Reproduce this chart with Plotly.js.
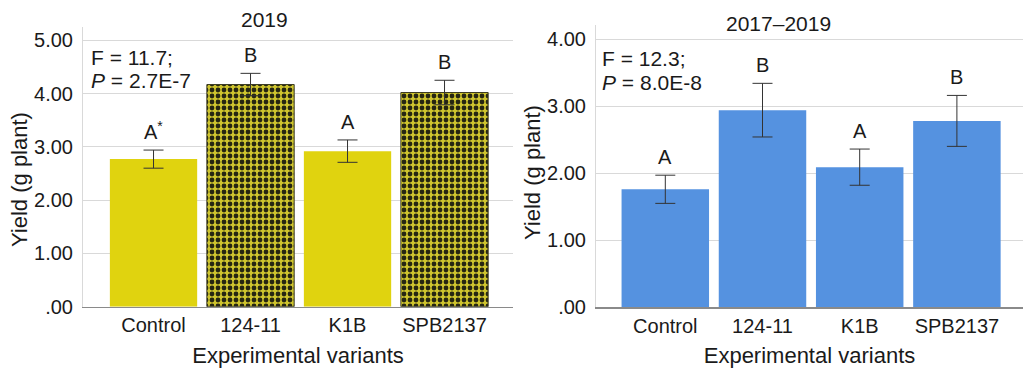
<!DOCTYPE html>
<html>
<head>
<meta charset="utf-8">
<script src="https://cdn.plot.ly/plotly-3.0.1.min.js"></script>
<style>html,body{margin:0;padding:0;background:#fff;}#chart{width:1023px;height:369px;}</style>
</head>
<body>
<div id="chart"></div>
<script>
// ---- data ----
const categories = ['Control', '124-11', 'K1B', 'SPB2137'];
const yield2019 = [2.77, 4.17, 2.92, 4.02];
const err2019 = [0.17, 0.21, 0.21, 0.23];
const letters2019 = ['A<sup>*</sup>', 'B', 'A', 'B'];
const yieldAll = [1.76, 2.94, 2.09, 2.78];
const errAll = [0.21, 0.40, 0.27, 0.38];
const lettersAll = ['A', 'B', 'A', 'B'];
const tickVals1 = [0, 1, 2, 3, 4, 5];
const tickText1 = ['.00', '1.00', '2.00', '3.00', '4.00', '5.00'];
const tickVals2 = [0, 1, 2, 3, 4];
const tickText2 = ['.00', '1.00', '2.00', '3.00', '4.00'];
const title1 = '2019';
const title2 = '2017–2019';
const stats1 = ['F = 11.7;', '<i>P</i> = 2.7E-7'];
const stats2 = ['F = 12.3;', '<i>P</i> = 8.0E-8'];
const xTitle = 'Experimental variants';
const yTitle = 'Yield (g plant)';

// ---- style ----
const FONT = 'Liberation Sans, Arial, Helvetica, sans-serif';
const TXT = '#1a1a1a';
const YELLOW = '#e0d30f';
const BLUE = '#5592e0';
const W = 1023, H = 369;
const px = x => x / W, py = y => 1 - y / H;

const errStyle = {type: 'data', visible: true, color: '#333333', thickness: 1, width: 10};

const trace1 = {
  type: 'bar', x: categories, y: yield2019, xaxis: 'x', yaxis: 'y', width: 0.9,
  error_y: Object.assign({array: err2019}, errStyle),
  marker: {
    color: YELLOW,
    line: {color: '#3a3a20', width: [0, 1, 0, 1]},
    pattern: {shape: ['', '.', '', '.'], fgcolor: '#262612', bgcolor: '#cfc52e', size: 6, solidity: 0.5, fillmode: 'replace'}
  },
  hoverinfo: 'skip', showlegend: false
};
const trace2 = {
  type: 'bar', x: categories, y: yieldAll, xaxis: 'x2', yaxis: 'y2', width: 0.9,
  error_y: Object.assign({array: errAll}, errStyle),
  marker: {color: BLUE, line: {width: 0}},
  hoverinfo: 'skip', showlegend: false
};

const annotations = [];
function letters(arr, vals, errs, xr, yr) {
  arr.forEach((t, i) => annotations.push({
    text: t, x: categories[i], y: vals[i] + errs[i], xref: xr, yref: yr,
    yanchor: 'bottom', yshift: 5, showarrow: false, font: {family: FONT, size: 20, color: TXT}
  }));
}
letters(letters2019, yield2019, err2019, 'x', 'y');
letters(lettersAll, yieldAll, errAll, 'x2', 'y2');
function txt(text, x, y, xanchor, size, angle) {
  annotations.push({text, x: px(x), y: py(y), xref: 'paper', yref: 'paper', xanchor, yanchor: 'middle',
    textangle: angle || 0, showarrow: false, font: {family: FONT, size, color: TXT}});
}
txt(title1, 264, 20, 'center', 21);
txt(title2, 778, 23, 'center', 21);
txt(stats1[0], 89, 58, 'left', 21);
txt(stats1[1], 89, 81, 'left', 21);
txt(stats2[0], 600, 59, 'left', 21);
txt(stats2[1], 600, 82, 'left', 21);
// y-axis titles (rotated)
txt(yTitle, 19, 180, 'center', 22, -90);
txt(yTitle, 532, 173, 'center', 22, -90);

const yAxisCommon = {
  showgrid: true, gridcolor: '#d9d9d9', gridwidth: 1,
  zeroline: false, showline: true, linecolor: '#d9d9d9', linewidth: 1,
  ticks: '', tickfont: {family: FONT, size: 20, color: TXT},
  tickmode: 'array', fixedrange: true
};
const xAxisCommon = {
  type: 'category', showgrid: false, zeroline: false, showline: true, linecolor: '#8a8a8a', linewidth: 1.5,
  ticks: '', tickfont: {family: FONT, size: 20, color: TXT}, fixedrange: true
};

const layout = {
  width: W, height: H, margin: {l: 0, r: 0, t: 0, b: 0},
  paper_bgcolor: '#ffffff', plot_bgcolor: '#ffffff',
  font: {family: FONT, color: TXT},
  xaxis: Object.assign({}, xAxisCommon, {domain: [px(83), px(513)], range: [-0.727, 3.706], anchor: 'y',
    title: {text: xTitle, font: {family: FONT, size: 22, color: TXT}, standoff: 12}}),
  yaxis: Object.assign({}, yAxisCommon, {domain: [py(306.7), py(27)], range: [0, 5.25], anchor: 'x',
    tickvals: tickVals1, ticktext: tickText1, ticklabelstandoff: 5}),
  xaxis2: Object.assign({}, xAxisCommon, {domain: [px(596), 1], range: [-0.713, 3.68], anchor: 'y2',
    title: {text: xTitle, font: {family: FONT, size: 22, color: TXT}, standoff: 12}}),
  yaxis2: Object.assign({}, yAxisCommon, {domain: [py(307.3), py(25)], range: [0, 4.21], anchor: 'x2',
    tickvals: tickVals2, ticktext: tickText2, ticklabelstandoff: 5}),
  annotations
};

Plotly.newPlot('chart', [trace1, trace2], layout, {displayModeBar: false, staticPlot: true});
</script>
</body>
</html>
